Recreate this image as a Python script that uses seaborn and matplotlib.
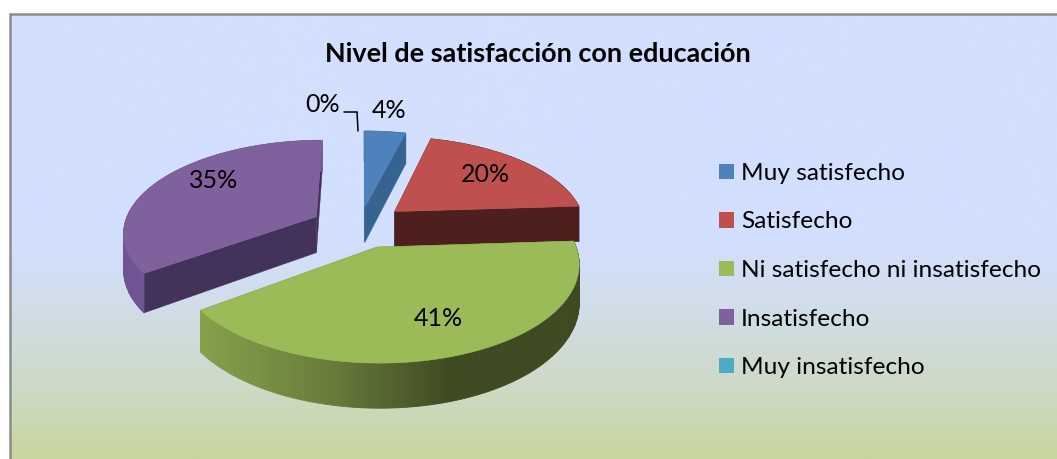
import numpy as np
import matplotlib
matplotlib.use("Agg")
import matplotlib.pyplot as plt
from matplotlib.colors import LinearSegmentedColormap
from matplotlib.patches import Patch
import seaborn as sns

title = "Nivel de satisfacción con educación"
categories = ["Muy satisfecho", "Satisfecho", "Ni satisfecho ni insatisfecho", "Insatisfecho", "Muy insatisfecho"]
values = [4, 20, 41, 35, 0]
value_labels = ["4%", "20%", "41%", "35%", "0%"]
top_colors = ["#4f81bd", "#c0504d", "#9bbb59", "#7f619d", "#4bacc6"]
cut_colors = ["#376391", "#4d1f1e", "#5d7035", "#43335a", "#2f7a8f"]

sns.set_theme(style="white")
plt.rcParams["font.family"] = ["Lato", "DejaVu Sans"]
palette = sns.color_palette(top_colors)

fig = plt.figure(figsize=(10.57, 4.59), dpi=100)
fig.patch.set_facecolor("white")
ax = fig.add_axes([0, 0, 1, 1])

# chart-area background
bg_cmap = LinearSegmentedColormap.from_list("bg", [
    (0.0, "#d3dfff"), (0.50, "#d3dfff"), (0.66, "#d1dde8"), (0.83, "#cddac8"), (1.0, "#c8d69e")])
ax.imshow(np.linspace(0, 1, 256)[:, None], cmap=bg_cmap, extent=(10, 1057, 459, 14),
          aspect="auto", zorder=0, interpolation="bilinear")
ax.set_xlim(0, 1057)
ax.set_ylim(459, 0)
ax.axis("off")
ax.plot([10, 10, 1057], [459, 14, 14], color="#8c8c8c", lw=1.8, zorder=1, solid_joinstyle="miter")

# perspective projection of the exploded pie
CX, CY, A, B, K, DEPTH, EXPLODE = 360.0, 225.0, 198.0, 93.3, 0.159, 36.5, 0.2
EXTRA_SHIFT = [(0.0, 0.0), (0.025, 0.02), (0.014, -0.04), (-0.045, 0.0), (0.0, 0.0)]
RADIUS = [1.0, 0.965, 0.97, 0.97, 1.0]

def project(x, y, z=0.0):
    w = 1 + K * y
    return CX + A * x / w, CY - B * y / w + DEPTH * z / w

green_wall = LinearSegmentedColormap.from_list("gw", ["#86a24c", "#6b7f3c", "#3f4a22", "#3f4a22"])
fracs = np.array(values, dtype=float) / sum(values)
edges = np.concatenate([[0], np.cumsum(fracs)]) * 2 * np.pi
order = [3, 0, 1, 2]
z = 2
for i in order:
    t0, t1 = edges[i], edges[i + 1]
    mid = (t0 + t1) / 2
    ex = EXPLODE * np.sin(mid) + EXTRA_SHIFT[i][0]
    ey = EXPLODE * np.cos(mid) + EXTRA_SHIFT[i][1]
    R = RADIUS[i]
    ts = np.linspace(t0, t1, max(int(np.degrees(t1 - t0)), 2) + 1)
    rx, ry = ex + R * np.sin(ts), ey + R * np.cos(ts)

    def cut(t, color):
        px = [ex, ex + R * np.sin(t), ex + R * np.sin(t), ex]
        py = [ey, ey + R * np.cos(t), ey + R * np.cos(t), ey]
        pz = [0, 0, 1, 1]
        X, Y = zip(*[project(a, b, c) for a, b, c in zip(px, py, pz)])
        ax.fill(X, Y, color=color, lw=0.3, zorder=z)

    cut(t0, cut_colors[i])
    # outer wall
    for j in range(len(ts) - 1):
        x0, y0 = project(rx[j], ry[j], 0)
        x1, y1 = project(rx[j + 1], ry[j + 1], 0)
        x2, y2 = project(rx[j + 1], ry[j + 1], 1)
        x3, y3 = project(rx[j], ry[j], 1)
        if i == 2:
            c = green_wall(np.clip((x0 - 197) / (578 - 197), 0, 1))
        elif i == 3:
            c = "#6f5493"
        else:
            c = cut_colors[i]
        ax.fill([x0, x1, x2, x3], [y0, y1, y2, y3], color=c, lw=0.6, zorder=z + 0.1)
    cut(t1, cut_colors[i])
    # top face
    tx, ty = project(np.concatenate([[ex], rx]), np.concatenate([[ey], ry]))
    ax.fill(tx, ty, color=palette[i], lw=0.4, zorder=z + 0.2)
    z += 1

# value labels
label_pos = [(389, 110), (485, 175), (438, 319), (214, 181), (323, 104)]
for s, (lx, ly) in zip(value_labels, label_pos):
    ax.text(lx, ly, s, ha="center", va="center", fontsize=18, color="black", zorder=20)
ax.plot([344, 357, 358], [112, 112, 131], color="black", lw=1.1, zorder=20, solid_joinstyle="miter")

ax.text(538, 54, title, ha="center", va="center", fontsize=19.45, fontweight="bold", color="black", zorder=20)

handles = [Patch(facecolor=c, edgecolor="none", label=l) for c, l in zip(top_colors, categories)]
ax.legend(handles=handles, loc="center left", bbox_to_anchor=(719 / 1057, 1 - 270.5 / 459),
          frameon=False, fontsize=17.6, handlelength=0.61, handleheight=0.61, handletextpad=0.29,
          labelspacing=1.125, borderpad=0, borderaxespad=0.0, labelcolor="black")

fig.savefig("out.png", dpi=100, facecolor="white")
